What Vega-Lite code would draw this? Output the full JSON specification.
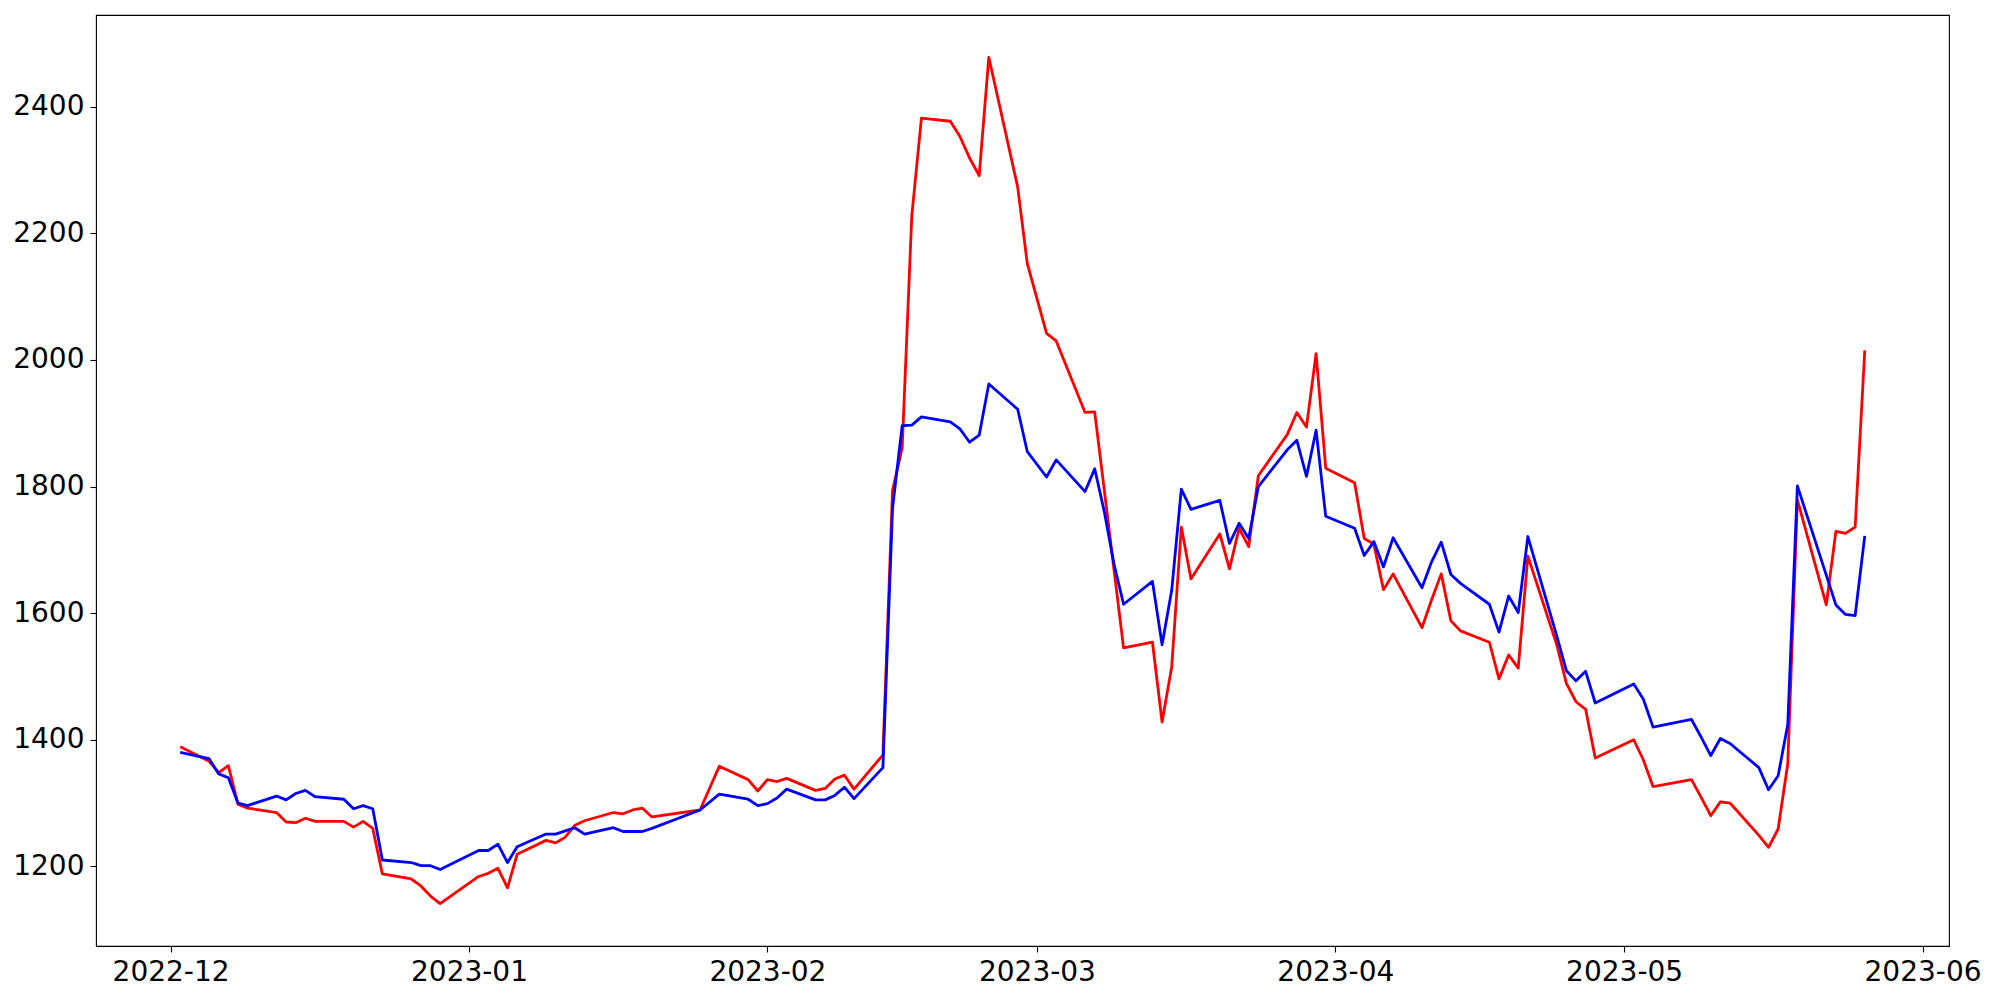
{
  "$schema": "https://vega.github.io/schema/vega-lite/v6.json",
  "width": 1853,
  "height": 931,
  "autosize": {"type": "none"},
  "padding": {"left": 96, "top": 15, "right": 51, "bottom": 54},
  "background": "white",
  "config": {
    "view": {"stroke": "black", "strokeWidth": 1.1},
    "axis": {
      "labelFont": "DejaVu Sans",
      "labelFontSize": 28,
      "labelColor": "black",
      "tickColor": "black",
      "tickWidth": 1.1,
      "tickSize": 6,
      "labelPadding": 6,
      "domain": false,
      "grid": false
    }
  },
  "data": {
    "values": [
      {"d": "2022-12-02", "r": 1389, "b": 1380},
      {"d": "2022-12-05", "r": 1366, "b": 1370},
      {"d": "2022-12-06", "r": 1348, "b": 1346},
      {"d": "2022-12-07", "r": 1359, "b": 1340},
      {"d": "2022-12-08", "r": 1298, "b": 1300},
      {"d": "2022-12-09", "r": 1292, "b": 1296},
      {"d": "2022-12-12", "r": 1285, "b": 1311},
      {"d": "2022-12-13", "r": 1270, "b": 1305},
      {"d": "2022-12-14", "r": 1269, "b": 1315},
      {"d": "2022-12-15", "r": 1276, "b": 1320},
      {"d": "2022-12-16", "r": 1271, "b": 1310},
      {"d": "2022-12-19", "r": 1271, "b": 1306},
      {"d": "2022-12-20", "r": 1262, "b": 1291},
      {"d": "2022-12-21", "r": 1271, "b": 1296},
      {"d": "2022-12-22", "r": 1260, "b": 1291},
      {"d": "2022-12-23", "r": 1188, "b": 1210},
      {"d": "2022-12-26", "r": 1180, "b": 1206},
      {"d": "2022-12-27", "r": 1169, "b": 1201},
      {"d": "2022-12-28", "r": 1153, "b": 1201},
      {"d": "2022-12-29", "r": 1141, "b": 1195},
      {"d": "2023-01-02", "r": 1184, "b": 1225},
      {"d": "2023-01-03", "r": 1189, "b": 1225},
      {"d": "2023-01-04", "r": 1197, "b": 1235},
      {"d": "2023-01-05", "r": 1166, "b": 1206},
      {"d": "2023-01-06", "r": 1219, "b": 1231},
      {"d": "2023-01-09", "r": 1241, "b": 1251},
      {"d": "2023-01-10", "r": 1237, "b": 1251},
      {"d": "2023-01-11", "r": 1246, "b": 1256},
      {"d": "2023-01-12", "r": 1265, "b": 1261},
      {"d": "2023-01-13", "r": 1272, "b": 1251},
      {"d": "2023-01-16", "r": 1285, "b": 1261},
      {"d": "2023-01-17", "r": 1283, "b": 1255},
      {"d": "2023-01-18", "r": 1289, "b": 1255},
      {"d": "2023-01-19", "r": 1292, "b": 1255},
      {"d": "2023-01-20", "r": 1278, "b": 1260},
      {"d": "2023-01-25", "r": 1289, "b": 1289},
      {"d": "2023-01-27", "r": 1358, "b": 1314},
      {"d": "2023-01-30", "r": 1337, "b": 1306},
      {"d": "2023-01-31", "r": 1319, "b": 1296},
      {"d": "2023-02-01", "r": 1337, "b": 1299},
      {"d": "2023-02-02", "r": 1334, "b": 1308},
      {"d": "2023-02-03", "r": 1339, "b": 1322},
      {"d": "2023-02-06", "r": 1320, "b": 1305},
      {"d": "2023-02-07", "r": 1323, "b": 1305},
      {"d": "2023-02-08", "r": 1338, "b": 1312},
      {"d": "2023-02-09", "r": 1344, "b": 1325},
      {"d": "2023-02-10", "r": 1322, "b": 1307},
      {"d": "2023-02-13", "r": 1376, "b": 1356},
      {"d": "2023-02-14", "r": 1794, "b": 1766},
      {"d": "2023-02-15", "r": 1861, "b": 1896},
      {"d": "2023-02-16", "r": 2228, "b": 1897},
      {"d": "2023-02-17", "r": 2382, "b": 1910},
      {"d": "2023-02-20", "r": 2377, "b": 1902},
      {"d": "2023-02-21", "r": 2353, "b": 1891},
      {"d": "2023-02-22", "r": 2319, "b": 1870},
      {"d": "2023-02-23", "r": 2291, "b": 1881},
      {"d": "2023-02-24", "r": 2478, "b": 1962},
      {"d": "2023-02-27", "r": 2273, "b": 1922},
      {"d": "2023-02-28", "r": 2152, "b": 1855},
      {"d": "2023-03-02", "r": 2042, "b": 1815},
      {"d": "2023-03-03", "r": 2030, "b": 1842},
      {"d": "2023-03-06", "r": 1917, "b": 1792},
      {"d": "2023-03-07", "r": 1918, "b": 1828},
      {"d": "2023-03-08", "r": 1794, "b": 1760},
      {"d": "2023-03-09", "r": 1669, "b": 1678},
      {"d": "2023-03-10", "r": 1545, "b": 1614},
      {"d": "2023-03-13", "r": 1554, "b": 1650},
      {"d": "2023-03-14", "r": 1428, "b": 1550},
      {"d": "2023-03-15", "r": 1515, "b": 1636},
      {"d": "2023-03-16", "r": 1736, "b": 1796},
      {"d": "2023-03-17", "r": 1654, "b": 1764},
      {"d": "2023-03-20", "r": 1725, "b": 1778},
      {"d": "2023-03-21", "r": 1670, "b": 1710},
      {"d": "2023-03-22", "r": 1734, "b": 1742},
      {"d": "2023-03-23", "r": 1705, "b": 1718},
      {"d": "2023-03-24", "r": 1817, "b": 1800},
      {"d": "2023-03-27", "r": 1882, "b": 1858},
      {"d": "2023-03-28", "r": 1917, "b": 1873},
      {"d": "2023-03-29", "r": 1894, "b": 1816},
      {"d": "2023-03-30", "r": 2010, "b": 1889},
      {"d": "2023-03-31", "r": 1829, "b": 1753},
      {"d": "2023-04-03", "r": 1806, "b": 1734},
      {"d": "2023-04-04", "r": 1718, "b": 1691},
      {"d": "2023-04-05", "r": 1709, "b": 1713},
      {"d": "2023-04-06", "r": 1637, "b": 1673},
      {"d": "2023-04-07", "r": 1662, "b": 1719},
      {"d": "2023-04-10", "r": 1577, "b": 1640},
      {"d": "2023-04-11", "r": 1621, "b": 1681},
      {"d": "2023-04-12", "r": 1662, "b": 1712},
      {"d": "2023-04-13", "r": 1588, "b": 1661},
      {"d": "2023-04-14", "r": 1572, "b": 1647},
      {"d": "2023-04-17", "r": 1554, "b": 1614},
      {"d": "2023-04-18", "r": 1496, "b": 1570},
      {"d": "2023-04-19", "r": 1534, "b": 1627},
      {"d": "2023-04-20", "r": 1513, "b": 1601},
      {"d": "2023-04-21", "r": 1690, "b": 1721},
      {"d": "2023-04-24", "r": 1550, "b": 1564},
      {"d": "2023-04-25", "r": 1489, "b": 1509},
      {"d": "2023-04-26", "r": 1460, "b": 1493},
      {"d": "2023-04-27", "r": 1448, "b": 1508},
      {"d": "2023-04-28", "r": 1371, "b": 1458},
      {"d": "2023-05-02", "r": 1400, "b": 1488},
      {"d": "2023-05-03", "r": 1368, "b": 1464},
      {"d": "2023-05-04", "r": 1326, "b": 1420},
      {"d": "2023-05-08", "r": 1337, "b": 1432},
      {"d": "2023-05-09", "r": 1309, "b": 1404},
      {"d": "2023-05-10", "r": 1280, "b": 1375},
      {"d": "2023-05-11", "r": 1302, "b": 1402},
      {"d": "2023-05-12", "r": 1300, "b": 1394},
      {"d": "2023-05-15", "r": 1249, "b": 1356},
      {"d": "2023-05-16", "r": 1230, "b": 1321},
      {"d": "2023-05-17", "r": 1259, "b": 1343},
      {"d": "2023-05-18", "r": 1362, "b": 1424},
      {"d": "2023-05-19", "r": 1779, "b": 1801},
      {"d": "2023-05-22", "r": 1613, "b": 1660},
      {"d": "2023-05-23", "r": 1729, "b": 1613},
      {"d": "2023-05-24", "r": 1726, "b": 1598},
      {"d": "2023-05-25", "r": 1736, "b": 1596},
      {"d": "2023-05-26", "r": 2015, "b": 1722}
    ]
  },
  "encoding": {
    "x": {
      "field": "d",
      "type": "temporal",
      "title": null,
      "scale": {
        "type": "utc",
        "domain": [
          {"year": 2022, "month": 11, "date": 23, "hours": 6, "utc": true},
          {"year": 2023, "month": 6, "date": 3, "hours": 18, "utc": true}
        ]
      },
      "axis": {
        "format": "%Y-%m",
        "values": [
          {"year": 2022, "month": 12, "date": 1, "utc": true},
          {"year": 2023, "month": 1, "date": 1, "utc": true},
          {"year": 2023, "month": 2, "date": 1, "utc": true},
          {"year": 2023, "month": 3, "date": 1, "utc": true},
          {"year": 2023, "month": 4, "date": 1, "utc": true},
          {"year": 2023, "month": 5, "date": 1, "utc": true},
          {"year": 2023, "month": 6, "date": 1, "utc": true}
        ]
      }
    }
  },
  "layer": [
    {
      "mark": {"type": "line", "color": "#ff0000", "strokeWidth": 2.8, "strokeJoin": "round"},
      "encoding": {
        "y": {
          "field": "r",
          "type": "quantitative",
          "title": null,
          "scale": {"domain": [1074.15, 2544.85], "nice": false, "zero": false},
          "axis": {"values": [1200, 1400, 1600, 1800, 2000, 2200, 2400], "format": "d"}
        }
      }
    },
    {
      "mark": {"type": "line", "color": "#0000ff", "strokeWidth": 2.8, "strokeJoin": "round"},
      "encoding": {
        "y": {"field": "b", "type": "quantitative", "title": null}
      }
    }
  ]
}
